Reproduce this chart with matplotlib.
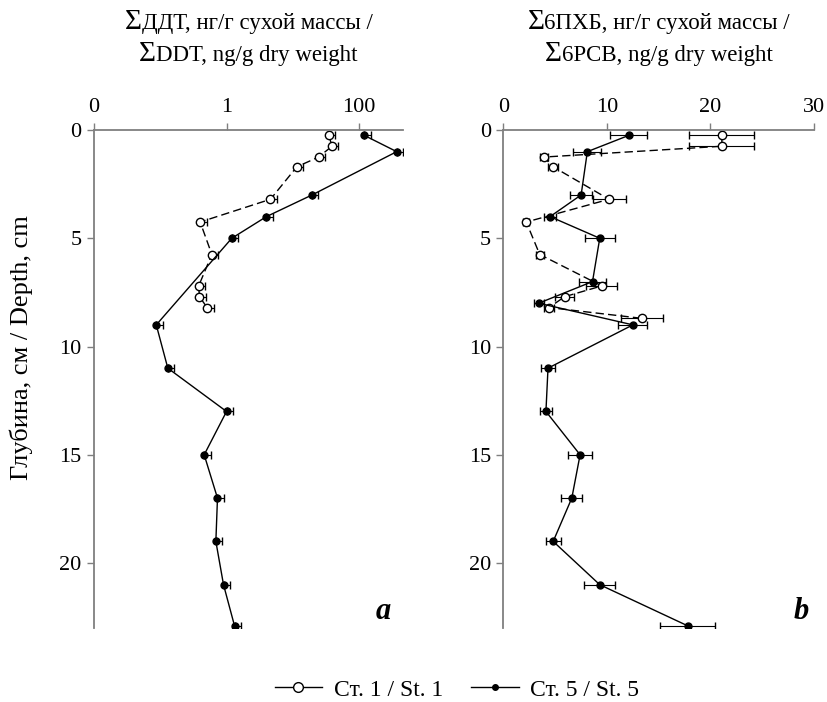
import matplotlib
matplotlib.use("Agg")
import matplotlib.pyplot as plt
import matplotlib.ticker as mticker
import numpy as np

plt.rcParams['font.family'] = ['Liberation Serif', 'DejaVu Serif']
plt.rcParams['font.size'] = 14

# depth, cm
depth_st1 = [0.25, 0.75, 1.25, 1.7, 3.2, 4.25, 5.75, 7.2, 7.7, 8.2, 8.7]
depth_st5 = [0.25, 1.0, 3.0, 4.0, 5.0, 9.0, 11.0, 13.0, 15.0, 17.0, 19.0, 21.0, 22.9]

# sum DDT, ng/g (log scale)
ddt_st1 = [35, 39, 24.5, 11.5, 4.6, 0.40, 0.60, 0.38, 0.39, 0.51]
ddt_st5 = [120, 370, 19.5, 4.0, 1.2, 0.087, 0.13, 1.0, 0.46, 0.73, 0.69, 0.90, 1.32]

# sum 6 PCB, ng/g
pcb_st1 = [21.1, 21.1, 3.9, 4.8, 10.2, 2.2, 3.5, 9.5, 5.9, 4.4, 13.4]
pcb_st1_err = [3.15, 3.15, 0.4, 0.5, 1.6, 0.3, 0.4, 1.5, 0.9, 0.5, 2.0]
pcb_st5 = [12.1, 8.1, 7.5, 4.5, 9.3, 8.6, 3.4, 12.5, 4.3, 4.1, 7.4, 6.6, 4.8, 9.3, 17.8]
pcb_st5_err = [1.8, 1.35, 1.05, 0.6, 1.45, 1.3, 0.5, 1.4, 0.72, 0.58, 1.18, 1.0, 0.74, 1.48, 2.67]
depth_pcb5 = [0.25, 1.0, 3.0, 4.0, 5.0, 7.0, 8.0, 9.0, 11.0, 13.0, 15.0, 17.0, 19.0, 21.0, 22.9]

W, H = 828, 702
fig = plt.figure(figsize=(W/100, H/100), dpi=100)
ax1 = fig.add_axes([94/W, 1-628/H, (403-94)/W, (628-130)/H])
ax2 = fig.add_axes([503.5/W, 1-628/H, (814-503.5)/W, (628-130)/H])

gray = '#7f7f7f'
dash = (0, (6, 3))

def style(ax):
    ax.xaxis.tick_top()
    for s in ['right', 'bottom']:
        ax.spines[s].set_visible(False)
    for s in ['top', 'left']:
        ax.spines[s].set_color(gray)
        ax.spines[s].set_linewidth(1.3)
    ax.tick_params(direction='out', color=gray, width=1.0, length=5, labelsize=16, pad=4)
    ax.set_ylim(23, 0)
    ax.set_yticks([0, 5, 10, 15, 20])

# panel a
st1_up = np.array(ddt_st1) * 0.25
st5_up = np.array(ddt_st5) * 0.25
ax1.errorbar(ddt_st1, depth_st1[:len(ddt_st1)], xerr=[np.zeros(len(ddt_st1)), st1_up],
             color='black', lw=1.0, ls=dash, marker='o', mfc='white', mec='black', ms=6,
             ecolor='black', elinewidth=0.8, capsize=3)
ax1.errorbar(ddt_st5, depth_st5, xerr=[np.zeros(len(ddt_st5)), st5_up],
             color='black', lw=1.0, marker='o', mfc='black', mec='black', ms=5,
             ecolor='black', elinewidth=0.8, capsize=3)
ax1.set_xscale('log')
ax1.set_xlim(0.01, 460)
ax1.xaxis.set_major_locator(mticker.FixedLocator([0.01, 1, 100]))
ax1.xaxis.set_major_formatter(mticker.FixedFormatter(['0', '1', '100']))
ax1.xaxis.set_minor_locator(mticker.NullLocator())
style(ax1)
ax1.text(0.96, 0.005, 'a', transform=ax1.transAxes, ha='right', va='bottom',
         fontsize=22, fontweight='bold', fontstyle='italic')

# panel b
ax2.errorbar(pcb_st1, depth_st1, xerr=pcb_st1_err,
             color='black', lw=1.0, ls=dash, marker='o', mfc='white', mec='black', ms=6,
             ecolor='black', elinewidth=0.8, capsize=3)
ax2.errorbar(pcb_st5, depth_pcb5, xerr=pcb_st5_err,
             color='black', lw=1.0, marker='o', mfc='black', mec='black', ms=5,
             ecolor='black', elinewidth=0.8, capsize=3)
ax2.set_xlim(0, 30)
ax2.set_xticks([0, 10, 20, 30])
style(ax2)
ax2.text(0.985, 0.005, 'b', transform=ax2.transAxes, ha='right', va='bottom',
         fontsize=22, fontweight='bold', fontstyle='italic')

# titles with a larger sigma sign
renderer = fig.canvas.get_renderer()

def sigma_line(xc, ybase, rest, fs=16.5, sfs=21):
    ts = fig.text(0, 1-ybase/H, 'Σ', fontsize=sfs, va='baseline')
    tr = fig.text(0, 1-ybase/H, rest, fontsize=fs, va='baseline')
    ws = ts.get_window_extent(renderer).width
    wr = tr.get_window_extent(renderer).width
    x0 = xc - (ws + wr) / 2
    ts.set_x(x0/W)
    tr.set_x((x0 + ws)/W)

sigma_line((94+403)/2, 29, 'ДДТ, нг/г сухой массы /')
sigma_line((94+403)/2, 61, 'DDT, ng/g dry weight')
sigma_line((503.5+814)/2, 29, '6ПХБ, нг/г сухой массы /')
sigma_line((503.5+814)/2, 61, '6PCB, ng/g dry weight')

fig.text(21/W, 1-348/H, 'Глубина, см / Depth, cm', rotation=90, ha='center', va='center', fontsize=19)

h1, = ax1.plot([], [], color='black', lw=1.0, marker='o', mfc='white', mec='black', ms=7)
h2, = ax1.plot([], [], color='black', lw=1.0, marker='o', mfc='black', mec='black', ms=4)
fig.legend([h1, h2], ['Ст. 1 / St. 1', 'Ст. 5 / St. 5'], loc='center', ncol=2,
           bbox_to_anchor=(457/W, 1-690/H), frameon=False, fontsize=17,
           handlelength=2.0, columnspacing=1.2, handletextpad=0.5)

fig.savefig('out.png', dpi=100)
